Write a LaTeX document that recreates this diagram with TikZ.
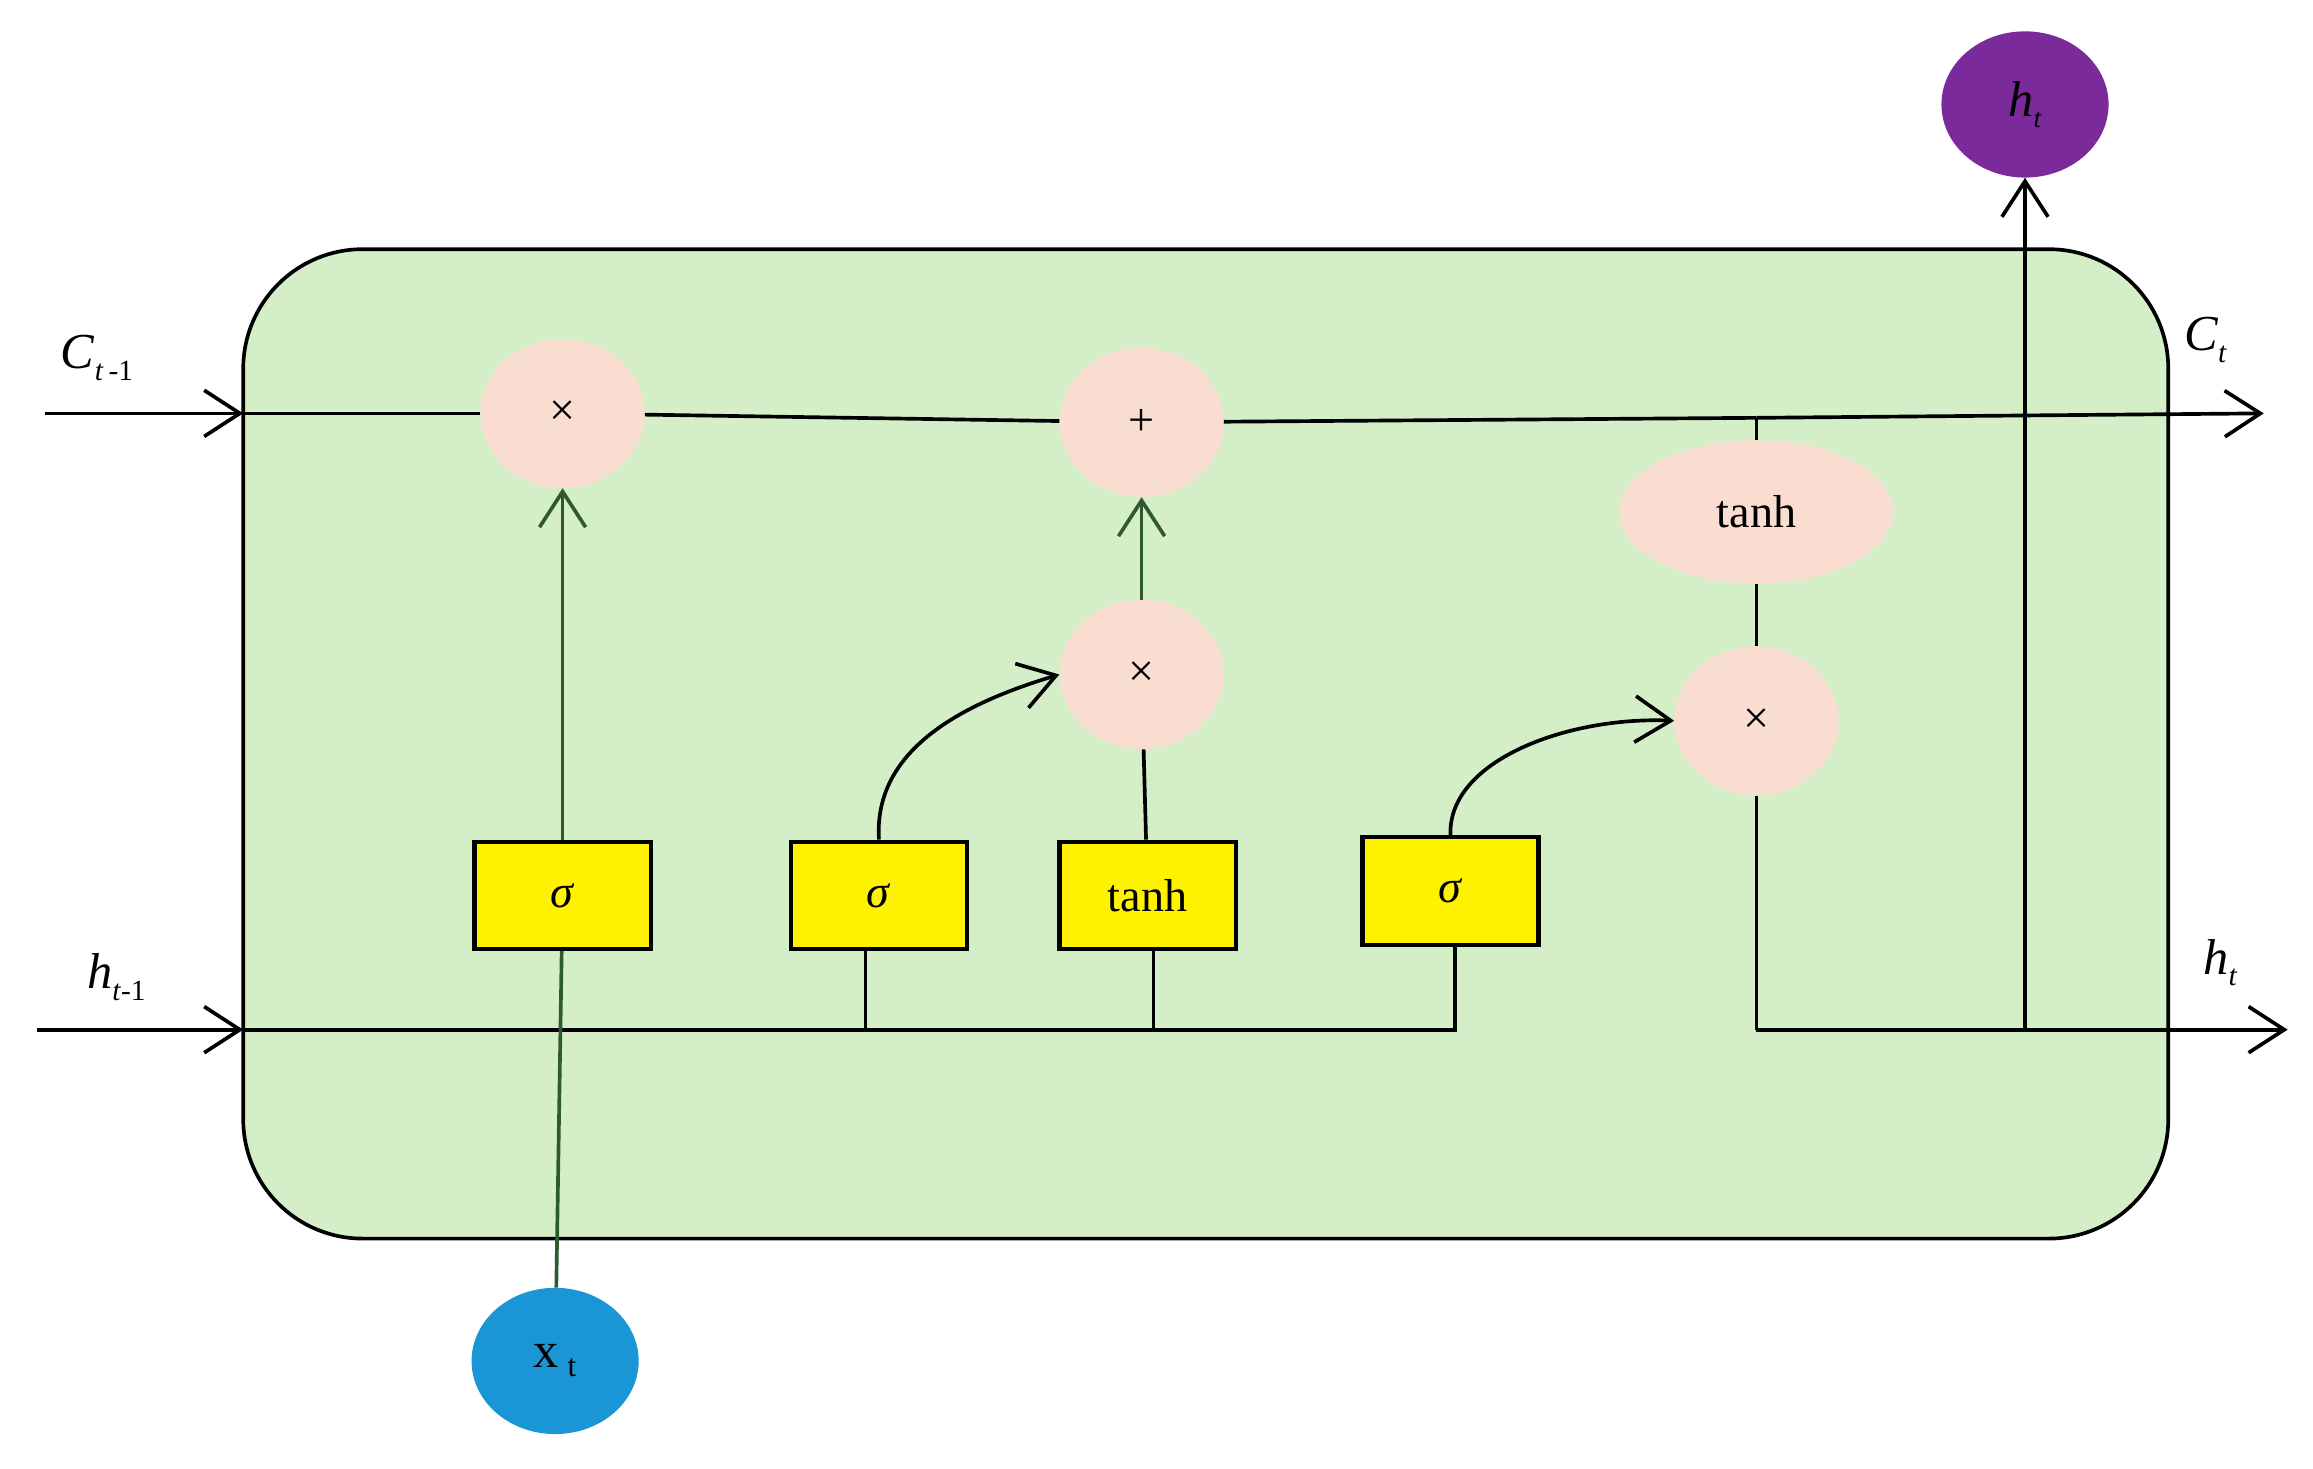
\documentclass[tikz,border=0pt]{standalone}
\usepackage{fontspec}
\setmainfont{Liberation Serif}
\usetikzlibrary{shapes.geometric,arrows.meta}
\definecolor{cellg}{HTML}{D4EFC8}
\definecolor{pinkc}{HTML}{F9DDD0}
\definecolor{dg}{HTML}{2F5A2F}
\definecolor{xb}{HTML}{1A96D6}
\definecolor{hp}{HTML}{7A2A9A}
\begin{document}
\begin{tikzpicture}[x=0.05cm,y=-0.05cm,
 op/.style={ellipse,fill=pinkc,minimum width=110*0.05cm,minimum height=100*0.05cm,inner sep=0pt,font=\fontsize{44}{44}\selectfont},
 box/.style={draw=black,line width=4pt,fill=yellow,minimum width=118*0.05cm,minimum height=72*0.05cm,inner sep=0pt,font=\fontsize{44}{44}\selectfont},
 io/.style={ellipse,minimum width=112*0.05cm,minimum height=98*0.05cm,inner sep=0pt,font=\fontsize{48}{48}\selectfont},
 lab/.style={font=\fontsize{48}{48}\selectfont},
 ln/.style={line width=3.5pt,black},
 gl/.style={line width=3.5pt,dg},
 arr/.style={-{Straight Barb[length=34pt,width=44pt,line width=3.5pt]}}]
\useasboundingbox (0,0) rectangle (1550,984);
\draw[fill=cellg,line width=3.5pt,rounded corners=80*0.05cm] (163,167) rectangle (1453,830);
\node[op] (m1) at (377,277) {×};
\node[op] (pl) at (765,283) {+};
\node[op] (m2) at (765,452) {×};
\node[op] (m3) at (1177,483) {×};
\node[op,minimum width=184*0.05cm,minimum height=96*0.05cm] (th) at (1177,343) {tanh};
\node[box] (s1) at (377,600) {\textit{σ}};
\node[box] (s2) at (589,600) {\textit{σ}};
\node[box] (tb) at (769,600) {tanh};
\node[box] (s3) at (972,597) {\textit{σ}};
\node[io,fill=xb] (x) at (372,912) {x\,\raisebox{-0.4ex}{\fontsize{30}{30}\selectfont t}};
\node[io,fill=hp] (ht) at (1357,70) {\textit{h}\raisebox{-0.5ex}{\fontsize{26}{26}\selectfont\textit{t}}};
\coordinate (cin) at (30,277);
\coordinate (cout) at (1517,277);
\coordinate (hin) at (25,690);
\coordinate (hout) at (1533,690);
\coordinate (hj) at (975,690);
\node[lab] (lc0) at (65,240) {\textit{C}\raisebox{-0.5ex}{\fontsize{28}{28}\selectfont\textit{t}\,-1}};
\node[lab] (lc1) at (1478,228) {\textit{C}\raisebox{-0.5ex}{\fontsize{28}{28}\selectfont\textit{t}}};
\node[lab] (lh0) at (78,655) {\textit{h}\raisebox{-0.5ex}{\fontsize{28}{28}\selectfont\textit{t}-1}};
\node[lab] (lh1) at (1488,645) {\textit{h}\raisebox{-0.5ex}{\fontsize{28}{28}\selectfont\textit{t}}};
% cell line
\draw[ln,arr] (cin) -- (163,277);
\draw[ln] (163,277) -- (m1);
\draw[ln] (m1) -- (pl);
\draw[ln] (pl) -- (1177,280);
\draw[ln,arr] (1177,280) -- (cout);
% hidden line
\draw[ln,arr] (hin) -- (163,690);
\draw[ln] (163,690) -- (hj) -- (s3.south -| hj);
\draw[ln] (580,690) -- (580,637);
\draw[ln] (773,690) -- (773,637);
% x input
\draw[gl] (x) -- (s1);
\draw[gl,arr] (s1) -- (m1);
\draw[ln,arr] (s2.north) .. controls (585,500) and (650,470) .. (m2.west);
\draw[ln,arr] (s3.north) .. controls (970,510) and (1050,480) .. (m3.west);
\draw[ln] (tb) -- (m2);
\draw[gl,arr] (m2) -- (pl);
\draw[ln] (1177,280) -- (th);
\draw[ln] (th) -- (m3);
\draw[ln] (m3) -- (1177,690);
\draw[ln,arr] (1177,690) -- (hout);
\draw[ln,arr] (1357,690) -- (ht);
\end{tikzpicture}
\end{document}
